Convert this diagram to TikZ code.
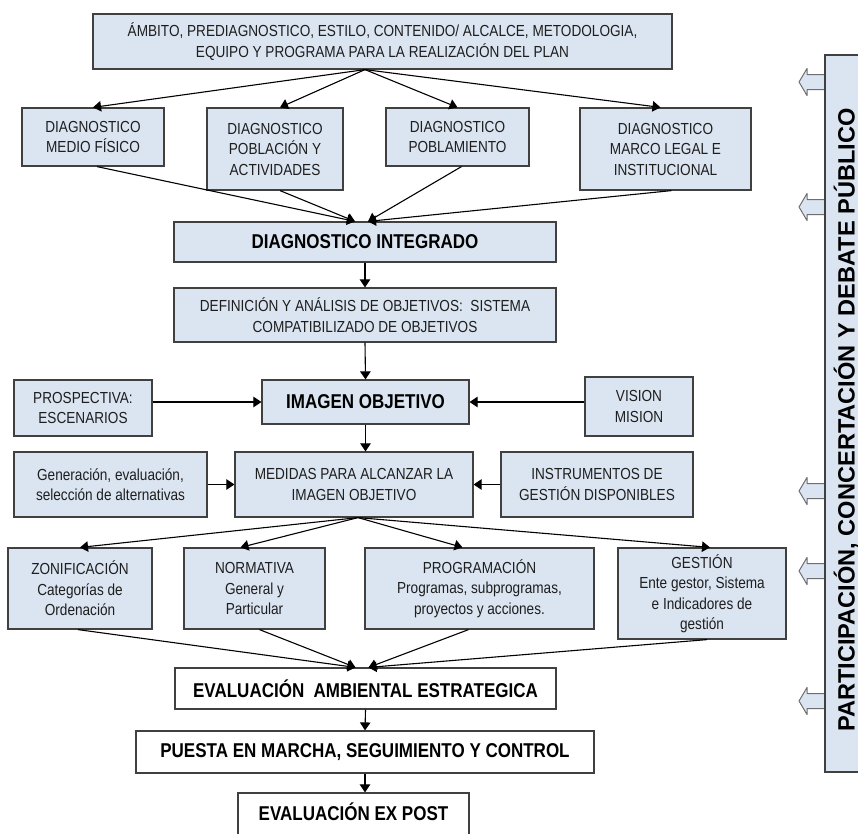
\documentclass[tikz,border=0pt]{standalone}
\usepackage{fontspec}
\setmainfont{Liberation Sans}[FakeStretch=0.85]
\newfontfamily\vfont{Liberation Sans}
\usetikzlibrary{arrows.meta,calc}
\definecolor{boxfill}{HTML}{DBE5F1}
\definecolor{boxline}{HTML}{404040}
\definecolor{txt}{HTML}{1E1E1E}
\definecolor{hline}{HTML}{6E6E6E}
\begin{document}
\begin{tikzpicture}[x=1pt,y=-1pt,
  box/.style={draw=boxline, line width=1.2pt, fill=boxfill, align=center, inner sep=0pt,
    text=txt, font=\fontsize{16}{20.5}\selectfont},
  bbox/.style={box, text=black, font=\fontsize{20}{22}\selectfont\bfseries},
  wbox/.style={bbox, fill=white},
  arr/.style={-{Triangle[length=8pt,width=10.5pt]}, line width=1.1pt, black},
  hollow/.style={draw=hline, fill=boxfill, line width=1pt, line join=round}]
\clip (0,0) rectangle (858,833);
\useasboundingbox (0,0) rectangle (858,833);

% top
\node[box, minimum width=579, minimum height=55] (top) at (382.5,41.5)
  {ÁMBITO, PREDIAGNOSTICO, ESTILO, CONTENIDO/ ALCALCE, METODOLOGIA,\\EQUIPO Y PROGRAMA PARA LA REALIZACIÓN DEL PLAN};

% diagnosticos
\node[box, minimum width=142, minimum height=58] (mf) at (93,137) {DIAGNOSTICO\\MEDIO FÍSICO};
\node[box, minimum width=136, minimum height=82] (pop) at (275,149) {DIAGNOSTICO\\POBLACIÓN Y\\ACTIVIDADES};
\node[box, minimum width=143, minimum height=58] (pobl) at (457.5,137) {DIAGNOSTICO\\POBLAMIENTO};
\node[box, minimum width=171, minimum height=82] (ml) at (665.5,149) {DIAGNOSTICO\\MARCO LEGAL E\\INSTITUCIONAL};

\node[bbox, minimum width=382, minimum height=40] (integ) at (365,242) {DIAGNOSTICO INTEGRADO};
\node[box, minimum width=382, minimum height=54] (def) at (365,315)
  {DEFINICIÓN Y ANÁLISIS DE OBJETIVOS:\ \ SISTEMA\\COMPATIBILIZADO DE OBJETIVOS};

\node[bbox, minimum width=207, minimum height=44] (img) at (365.5,402) {IMAGEN OBJETIVO};
\node[box, minimum width=138, minimum height=56] (pros) at (83,408) {PROSPECTIVA:\\ESCENARIOS};
\node[box, minimum width=108, minimum height=59] (vis) at (639,406.5) {VISION\\MISION};

\node[box, minimum width=238, minimum height=65] (med) at (354,484.5) {MEDIDAS PARA ALCANZAR LA\\IMAGEN OBJETIVO};
\node[box, minimum width=193, minimum height=65] (gen) at (110.5,484.5) {Generación, evaluación,\\selección de alternativas};
\node[box, minimum width=192, minimum height=65] (ins) at (597,484.5) {INSTRUMENTOS DE\\GESTIÓN DISPONIBLES};

\node[box, minimum width=144, minimum height=81] (zon) at (80,588.5) {ZONIFICACIÓN\\Categorías de\\Ordenación};
\node[box, minimum width=141, minimum height=81] (nor) at (254.5,588.5) {NORMATIVA\\General y\\Particular};
\node[box, minimum width=229, minimum height=81] (prog) at (479.5,588.5) {PROGRAMACIÓN\\Programas, subprogramas,\\proyectos y acciones.};
\node[box, minimum width=168, minimum height=91] (ges) at (702,593.5) {GESTIÓN\\Ente gestor, Sistema\\e Indicadores de\\gestión};

\node[wbox, minimum width=381, minimum height=41] (eva) at (365.5,688.5) {EVALUACIÓN\ \ AMBIENTAL ESTRATEGICA};
\node[wbox, minimum width=458, minimum height=42] (pue) at (365,752) {PUESTA EN MARCHA, SEGUIMIENTO Y CONTROL};
\node[wbox, minimum width=231, text height=27, text depth=40, anchor=base] (exp) at (353.5,820) {EVALUACIÓN EX POST};

% right panel
\foreach \yy in {82,207,491,571,701}
  \draw[hollow] (826,\yy-7.5) -- (807,\yy-7.5) -- (807,\yy-13.5) -- (799,\yy) -- (807,\yy+13.5) -- (807,\yy+7.5) -- (826,\yy+7.5);
\node[draw=boxline, fill=boxfill, line width=1.2pt, minimum width=45, minimum height=717, inner sep=0pt] (panel) at (847.5,413.5) {};
\node[rotate=90, font=\vfont\fontsize{23.6}{24}\selectfont\bfseries, text=black, inner sep=0pt] (part) at (846,420)
  {PARTICIPACIÓN, CONCERTACIÓN Y DEBATE PÚBLICO};

% connectors
\coordinate (topo) at ([xshift=-17.5pt]top.south);
\draw[arr] (topo) -- (mf.north);
\draw[arr] (topo) -- ([xshift=5pt]pop.north);
\draw[arr] (topo) -- (pobl.north);
\draw[arr] (topo) -- ([xshift=-5pt]ml.north);

\coordinate (ia) at ([xshift=-10pt]integ.north);
\coordinate (ib) at ([xshift=3pt]integ.north);
\draw[arr] ([xshift=4pt]mf.south) -- (ia);
\draw[arr] ([xshift=5pt]pop.south) -- (ia);
\draw[arr] ([xshift=4pt]pobl.south) -- (ib);
\draw[arr] ([xshift=6pt]ml.south) -- (ib);

\draw[arr] (integ.south) -- (def.north);
\draw[arr] (def.south) -- (img.north);
\draw[arr] (pros.east |- img.west) -- (img.west);
\draw[arr] (vis.west |- img.east) -- (img.east);
\draw[arr] (img.south) -- (img.south |- med.north);
\draw[arr] (gen.east) -- (med.west);
\draw[arr] (ins.west) -- (med.east);

\coordinate (mo) at ([xshift=4pt]med.south);
\draw[arr] (mo) -- (zon.north);
\draw[arr] (mo) -- ([xshift=-14pt]nor.north);
\draw[arr] (mo) -- ([xshift=-17pt]prog.north);
\draw[arr] (mo) -- ([xshift=8pt]ges.north);

\coordinate (ea) at ([xshift=-10pt]eva.north);
\coordinate (eb) at ([xshift=3pt]eva.north);
\draw[arr] ([xshift=-2pt]zon.south) -- (ea);
\draw[arr] ([xshift=5pt]nor.south) -- (ea);
\draw[arr] ([xshift=-11pt]prog.south) -- (eb);
\draw[arr] ([xshift=5pt]ges.south) -- (eb);

\draw[arr] (eva.south) -- (pue.north);
\draw[arr] (pue.south) -- (pue.south |- exp.north);
\end{tikzpicture}
\end{document}
